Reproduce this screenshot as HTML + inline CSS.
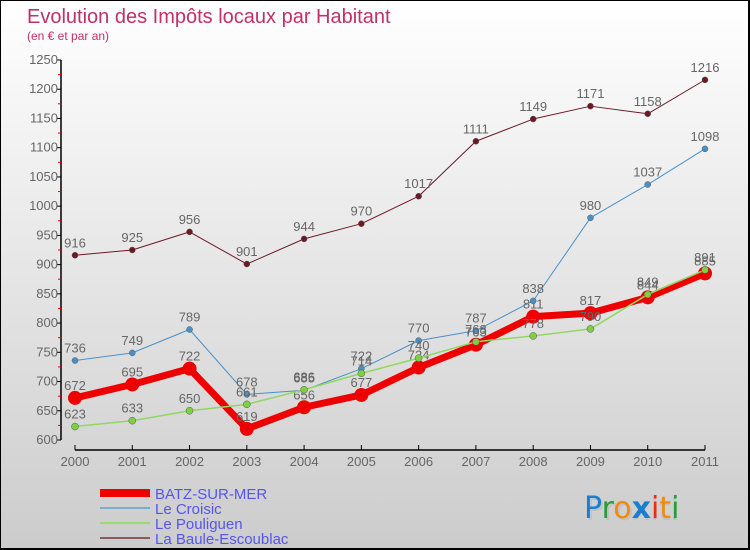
<!DOCTYPE html>
<html><head><meta charset="utf-8"><style>
body{margin:0;width:750px;height:550px;overflow:hidden;font-family:"Liberation Sans",sans-serif}
#c{position:absolute;left:0;top:0}
</style></head><body>
<svg id="c" width="750" height="550" xmlns="http://www.w3.org/2000/svg">
<defs><linearGradient id="bg" x1="0" y1="0" x2="0" y2="1"><stop offset="0" stop-color="#ffffff"/><stop offset="1" stop-color="#cccccc"/></linearGradient></defs>
<rect x="0.5" y="0.5" width="748" height="548" fill="url(#bg)" stroke="#000" stroke-width="1"/>
<line x1="749" y1="0" x2="749" y2="550" stroke="#000" stroke-width="2"/>
<line x1="0" y1="549" x2="750" y2="549" stroke="#000" stroke-width="2"/>
<text x="27" y="23" font-size="20" fill="#c0306a">Evolution des Impôts locaux par Habitant</text>
<text x="27" y="40" font-size="12" fill="#c0306a">(en € et par an)</text>
<g id="axes"></g>
<g id="series"></g>
<g id="legend"></g>
<text x="584" y="518" font-size="30" font-family="DejaVu Sans, sans-serif" fill="#bbb" opacity="0.6"><tspan dx="2" dy="2">Proxiti</tspan></text>
<text x="584" y="518" font-size="30" font-family="DejaVu Sans, sans-serif"><tspan fill="#1a7fd0">P</tspan><tspan fill="#2a9a3a">r</tspan><tspan fill="#f08a10">o</tspan><tspan fill="#1a7fd0" font-weight="bold">x</tspan><tspan fill="#e83010">i</tspan><tspan fill="#f08a10">t</tspan><tspan fill="#2a9a3a">i</tspan></text>
</svg>
<script>
const years=[2000,2001,2002,2003,2004,2005,2006,2007,2008,2009,2010,2011];
const yTicks=[600,650,700,750,800,850,900,950,1000,1050,1100,1150,1200,1250];
const batz=[672,695,722,619,656,677,724,763,811,817,844,885];
const croisic=[736,749,789,678,685,722,770,787,838,980,1037,1098];
const pouliguen=[623,633,650,661,686,714,740,768,778,790,849,891];
const baule=[916,925,956,901,944,970,1017,1111,1149,1171,1158,1216];
const NS="http://www.w3.org/2000/svg";
function X(i){return 75+i*(630/(years.length-1));}
function Y(v){return 440-(v-600)*(380/650);}
function mk(t,a,p){const e=document.createElementNS(NS,t);for(const k in a)e.setAttribute(k,a[k]);(p||document.getElementById('series')).appendChild(e);return e;}
const ax=document.getElementById('axes');
let yl=mk('line',{x1:61,y1:Y(1250),x2:61,y2:Y(600),stroke:'#000','stroke-width':1.5},ax);


yTicks.forEach((v,i)=>{
 mk('line',{x1:57,y1:Y(v),x2:61,y2:Y(v),stroke:'#000'},ax);
 if(i<yTicks.length-1) mk('line',{x1:58,y1:Y(v+25),x2:61,y2:Y(v+25),stroke:'#e00'},ax);
 const t=mk('text',{x:58,y:Y(v)+4,'font-size':13,fill:'#666','text-anchor':'end'},ax);t.textContent=v;
 
 
});
let xl=mk('line',{x1:X(0),y1:450,x2:X(years.length-1),y2:450,stroke:'#000','stroke-width':1.5},ax);


years.forEach((y,i)=>{
 mk('line',{x1:X(i),y1:445,x2:X(i),y2:450,stroke:'#000'},ax);
 const t=mk('text',{x:X(i),y:466,'font-size':13,fill:'#666','text-anchor':'middle'},ax);t.textContent=y;
 
 
});
const series=[
 {n:'la-baule',d:baule,c:'#6b1a24',w:1,r:3},
 {n:'le-croisic',d:croisic,c:'#4a90c8',w:1,r:3},
 {n:'le-pouliguen',d:pouliguen,c:'#8fd860',w:1.5,r:3.5},
 {n:'batz-sur-mer',d:batz,c:'#ee0000',w:7,r:7}
];
const order=[series[3],series[1],series[2],series[0]];
order.forEach(s=>{
 const g=mk('g',{});
 
 
 const pl=mk('polyline',{points:s.d.map((v,i)=>X(i)+','+Y(v)).join(' '),fill:'none',stroke:s.c,'stroke-width':s.w,'stroke-linejoin':'round'},g);
 
 
 s.d.forEach((v,i)=>{
  const p=mk('circle',{cx:X(i),cy:Y(v),r:s.r,fill:s.n=='le-pouliguen'?'#7fd040':s.c,stroke:s.n=='batz-sur-mer'?'#d00':'#555','stroke-width':s.n=='batz-sur-mer'?0:0.5},g);
  
  
  const t=mk('text',{x:X(i),y:Y(v)-8,'font-size':13,fill:'#666','text-anchor':'middle'},g);t.textContent=v;
  
  
 });
});
const lg=document.getElementById('legend');
const legendItems=[['BATZ-SUR-MER','#ee0000',8],['Le Croisic','#7aaed0',2],['Le Pouliguen','#9ad870',2],['La Baule-Escoublac','#8a5c5c',2]];
legendItems.forEach((it,i)=>{
 const y=493+i*15;
 const l=mk('line',{x1:100,y1:y,x2:150,y2:y,stroke:it[1],'stroke-width':it[2]},lg);
 
 
 const t=mk('text',{x:155,y:y+6,'font-size':15,fill:'#5555ee'},lg);t.textContent=it[0];
 
 
});
</script>
</body></html>
